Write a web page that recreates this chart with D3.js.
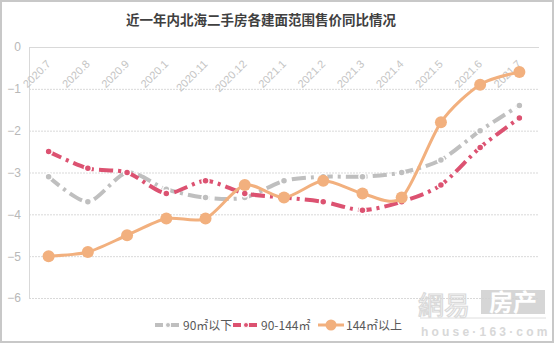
<!DOCTYPE html>
<html><head><meta charset="utf-8">
<script src="https://cdn.jsdelivr.net/npm/d3@7/dist/d3.min.js"></script>
<style>body{margin:0;background:#fff;}svg{display:block;font-family:"Microsoft YaHei","Noto Sans CJK SC",sans-serif;}</style>
</head><body>
<script>
const title = "近一年内北海二手房各建面范围售价同比情况";
const categories = ["2020.7","2020.8","2020.9","2020.1","2020.11","2020.12","2021.1","2021.2","2021.3","2021.4","2021.5","2021.6","2021.7"];
const small = [-3.1,-3.7,-3.0,-3.4,-3.6,-3.6,-3.2,-3.1,-3.1,-3.0,-2.7,-2.0,-1.4];
const mid = [-2.5,-2.9,-3.0,-3.5,-3.2,-3.5,-3.6,-3.7,-3.9,-3.7,-3.3,-2.4,-1.7];
const large = [-5.0,-4.9,-4.5,-4.1,-4.1,-3.3,-3.6,-3.2,-3.5,-3.6,-1.8,-0.9,-0.6];
const seriesNames = ["90㎡以下","90-144㎡","144㎡以上"];
const yTicks = [0,-1,-2,-3,-4,-5,-6];

const W=555,H=344;
const svg=d3.select("body").append("svg").attr("width",W).attr("height",H);
svg.append("rect").attr("x",1).attr("y",1).attr("width",W-3).attr("height",H-3).attr("fill","#fff").attr("stroke","#c8c8c8").attr("stroke-width",2);

const L=29,R=539,T=47,B=298;
const x=d3.scaleBand().domain(categories).range([L,R]);
const y=d3.scaleLinear().domain([-6,0]).range([B,T]);

svg.append("text").attr("x",261).attr("y",25).attr("text-anchor","middle").attr("font-size",13.5).attr("font-weight","bold").attr("fill","#404040").text(title);

// grid
svg.append("g").selectAll("line").data(yTicks).join("line")
 .attr("x1",L).attr("x2",R).attr("y1",d=>y(d)+0.5).attr("y2",d=>y(d)+0.5)
 .attr("stroke","#d9d9d9").attr("stroke-dasharray",d=>d===0?null:"2,1");
svg.append("line").attr("x1",L+0.5).attr("x2",L+0.5).attr("y1",T).attr("y2",B).attr("stroke","#d9d9d9");

const ya=svg.append("g").attr("transform",`translate(${L},0)`).call(d3.axisLeft(y).tickValues(yTicks).tickSize(0).tickPadding(8).tickFormat(d3.format("d")));
ya.select(".domain").remove();
ya.selectAll("text").attr("font-size",12).attr("fill","#b8b8b8").attr("font-family","Arial, Liberation Sans, sans-serif");

// x labels
svg.append("g").selectAll("text").data(categories).join("text")
 .attr("transform",d=>`translate(${x(d)+x.bandwidth()/2},${T+15}) rotate(-45)`)
 .attr("text-anchor","end").attr("font-size",11).attr("fill","#c4c4c4").attr("font-family","Arial, Liberation Sans, sans-serif")
 .attr("dy","0.35em").text(d=>d);

const cx=d=>x(d)+x.bandwidth()/2;
const line=d3.line().x((d,i)=>cx(categories[i])).y(d=>y(d)).curve(d3.curveCardinal.tension(0.2));

// gray
svg.append("path").datum(small).attr("d",line).attr("fill","none").attr("stroke","#bfbfbf").attr("stroke-width",4).attr("stroke-dasharray","14,5,3,5");
svg.append("g").selectAll("circle").data(small).join("circle").attr("cx",(d,i)=>cx(categories[i])).attr("cy",d=>y(d)).attr("r",3.5).attr("fill","#bfbfbf").attr("stroke","#fff").attr("stroke-width",1.5);
// red
svg.append("path").datum(mid).attr("d",line).attr("fill","none").attr("stroke","#dc5271").attr("stroke-width",4).attr("stroke-dasharray","14,5,3,5");
svg.append("g").selectAll("circle").data(mid).join("circle").attr("cx",(d,i)=>cx(categories[i])).attr("cy",d=>y(d)).attr("r",3.5).attr("fill","#dc5271").attr("stroke","#fff").attr("stroke-width",1.5);
// orange
svg.append("path").datum(large).attr("d",line).attr("fill","none").attr("stroke","#f2b07e").attr("stroke-width",3);
svg.append("g").selectAll("circle").data(large).join("circle").attr("cx",(d,i)=>cx(categories[i])).attr("cy",d=>y(d)).attr("r",6).attr("fill","#f2b07e");

// watermark
const wm=svg.append("g").attr("opacity",0.9);
wm.append("text").attr("x",418).attr("y",315).attr("font-size",26).attr("fill","none").attr("stroke","#d6d6d6").attr("stroke-width",1.2).text("網易");
wm.append("rect").attr("x",481).attr("y",290).attr("width",64).attr("height",24).attr("fill","#d2d2d2");
wm.append("text").attr("x",513).attr("y",311).attr("text-anchor","middle").attr("font-size",24).attr("font-weight","bold").attr("fill","#fff").text("房产");
wm.append("line").attr("x1",420).attr("x2",546).attr("y1",318).attr("y2",318).attr("stroke","#dcdcdc");
wm.append("text").attr("x",421).attr("y",336).attr("font-size",12).attr("font-weight","bold").attr("fill","#d4d4d4").attr("letter-spacing",3.2).attr("font-family","Arial, Liberation Sans, sans-serif").text("house·163·com");

// legend
const lg=svg.append("g");
const items=[{n:seriesNames[0],c:"#bfbfbf",x:155,t:"dash"},{n:seriesNames[1],c:"#dc5271",x:233,t:"dash"},{n:seriesNames[2],c:"#f2b07e",x:318,t:"solid"}];
items.forEach(it=>{
 const yy=325;
 if(it.t==="dash"){
  lg.append("line").attr("x1",it.x).attr("x2",it.x+26).attr("y1",yy).attr("y2",yy).attr("stroke",it.c).attr("stroke-width",4).attr("stroke-dasharray","8,3,2,3");
  lg.append("circle").attr("cx",it.x+13).attr("cy",yy).attr("r",2.5).attr("fill",it.c).attr("stroke","#fff");
 } else {
  lg.append("line").attr("x1",it.x).attr("x2",it.x+26).attr("y1",yy).attr("y2",yy).attr("stroke",it.c).attr("stroke-width",3);
  lg.append("circle").attr("cx",it.x+13).attr("cy",yy).attr("r",5.5).attr("fill",it.c);
 }
 lg.append("text").attr("x",it.x+28).attr("y",yy+4.5).attr("font-size",12).attr("fill","#595959").text(it.n);
});
</script>
</body></html>
